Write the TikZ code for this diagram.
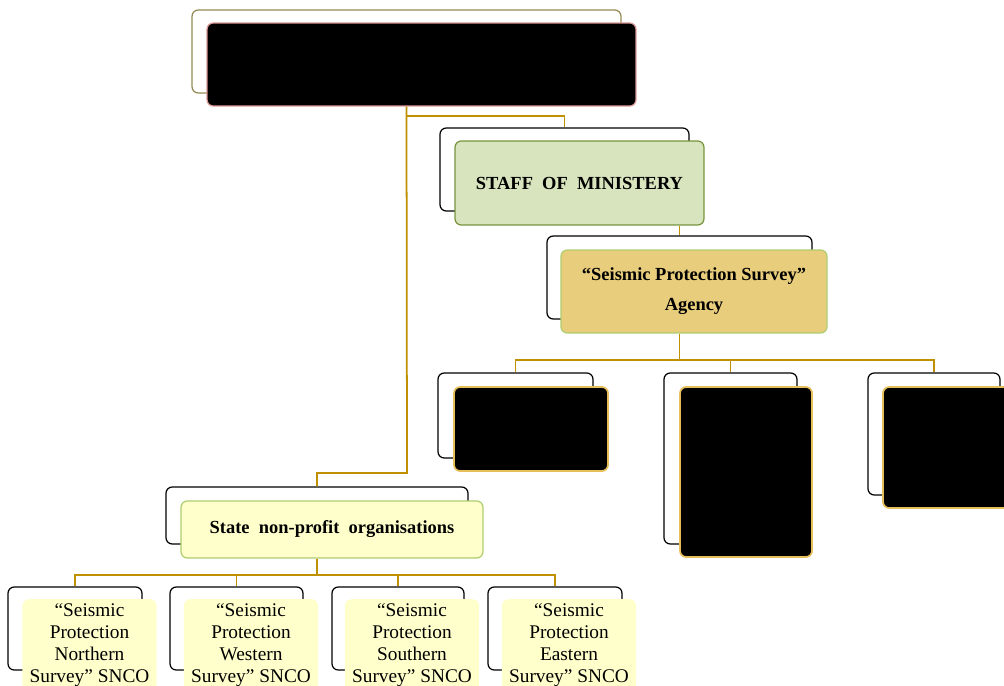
\documentclass[tikz,border=0pt]{standalone}
\usepackage{fontspec}
\setmainfont{Liberation Serif}
\definecolor{linkgold}{RGB}{191,144,0}
\definecolor{olivegray}{RGB}{148,138,84}
\definecolor{rosebrd}{RGB}{217,150,148}
\definecolor{staffgreen}{RGB}{215,228,189}
\definecolor{staffbrd}{RGB}{119,147,60}
\definecolor{agencygold}{RGB}{232,205,125}
\definecolor{lightbrd}{RGB}{175,205,110}
\definecolor{paleyellow}{RGB}{255,255,204}
\definecolor{goldbrd}{RGB}{230,190,90}
\begin{document}
\begin{tikzpicture}[x=0.02cm, y=-0.02cm,
    back/.style={draw, rounded corners=3.5pt, line width=0.7pt, inner sep=0pt},
    front/.style={draw, rounded corners=3.5pt, line width=0.7pt, inner sep=2pt, align=center,
      font=\fontsize{10.5}{17}\selectfont\bfseries},
    hidden/.style={front, fill=black, draw=goldbrd, line width=1pt},
    snco/.style={front, fill=paleyellow, draw=paleyellow,
      font=\fontsize{11}{12.6}\selectfont, minimum width=2.66cm, minimum height=1.66cm},
    link/.style={linkgold, line width=1pt}]
  \useasboundingbox (0,0) rectangle (1004,686);

  % Ministry
  \node[back, draw=olivegray, minimum width=8.58cm, minimum height=1.66cm] (topback) at (406.5,51.5) {};
  \node[front, fill=black, draw=rosebrd, minimum width=8.58cm, minimum height=1.66cm] (topfront) at (421.5,64.5) {};

  % Staff
  \node[back, minimum width=4.98cm, minimum height=1.66cm] (staffback) at (564.5,169.5) {};
  \node[front, fill=staffgreen, draw=staffbrd, minimum width=4.98cm, minimum height=1.68cm] (stafffront) at (579.5,183) {STAFF\ \ OF\ \ MINISTERY};

  % Agency
  \node[back, minimum width=5.3cm, minimum height=1.66cm] (agback) at (679.5,277.5) {};
  \node[front, fill=agencygold, draw=lightbrd, minimum width=5.32cm, minimum height=1.66cm] (agfront) at (694,291.5) {“Seismic Protection Survey”\\Agency};

  % Departments of the agency
  \node[back, minimum width=3.1cm, minimum height=1.7cm] (aback) at (515.5,415.5) {};
  \node[hidden, minimum width=3.08cm, minimum height=1.68cm] (afront) at (531,429) {};
  \node[back, minimum width=2.66cm, minimum height=3.42cm] (bback) at (730.5,458.5) {};
  \node[hidden, minimum width=2.64cm, minimum height=3.4cm] (bfront) at (746,472) {};
  \node[back, minimum width=2.64cm, minimum height=2.44cm] (cback) at (934,434) {};
  \node[hidden, minimum width=2.68cm, minimum height=2.42cm] (cfront) at (950,447.5) {};

  % State organisations
  \node[back, minimum width=6.04cm, minimum height=1.14cm] (stateback) at (317,515.5) {};
  \node[front, fill=paleyellow, draw=lightbrd, minimum width=6.04cm, minimum height=1.14cm] (statefront) at (332,529.5) {State\ \ non-profit\ \ organisations};

  % SNCO
  \node[back, minimum width=2.68cm, minimum height=1.66cm] (nback) at (75,628.5) {};
  \node[snco] (nfront) at (89.5,645) {“Seismic\\Protection\\Northern\\Survey” SNCO};
  \node[back, minimum width=2.66cm, minimum height=1.66cm] (wback) at (236.5,628.5) {};
  \node[snco] (wfront) at (251,645) {“Seismic\\Protection\\Western\\Survey” SNCO};
  \node[back, minimum width=2.64cm, minimum height=1.66cm] (sback) at (398,628.5) {};
  \node[snco] (sfront) at (412,645) {“Seismic\\Protection\\Southern\\Survey” SNCO};
  \node[back, minimum width=2.68cm, minimum height=1.66cm] (eback) at (555,628.5) {};
  \node[snco] (efront) at (569,645) {“Seismic\\Protection\\Eastern\\Survey” SNCO};

  % Connectors
  \draw[link] (topback.south |- topfront.south) -- (407,473) -| (stateback.north);
  \draw[link] (407,116) -| (staffback.north);
  \draw[link] (stafffront.south -| agback.north) -- (agback.north);
  \draw[link] (agback.north |- agfront.south) -- (679.5,360) -| (aback.north);
  \draw[link] (679.5,360) -| (bback.north);
  \draw[link] (679.5,360) -| (cback.north);
  \draw[link] (stateback.north |- statefront.south) -- (317,575) -| (nback.north);
  \draw[link] (317,575) -| (wback.north);
  \draw[link] (317,575) -| (sback.north);
  \draw[link] (317,575) -| (eback.north);
\end{tikzpicture}
\end{document}
